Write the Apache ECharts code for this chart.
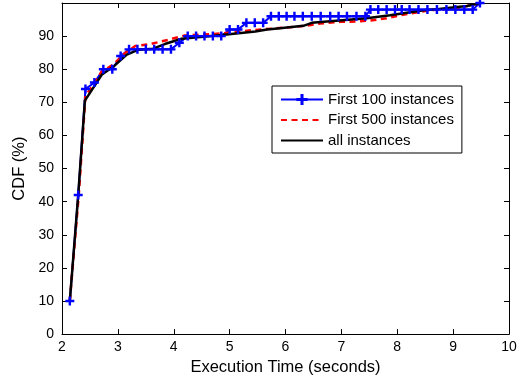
<!DOCTYPE html>
<html>
<head>
<meta charset="utf-8">
<script src="https://cdn.jsdelivr.net/npm/echarts@6/dist/echarts.min.js"></script>
<style>
html,body{margin:0;padding:0;background:#fff;}
#chart{width:521px;height:381px;}
</style>
</head>
<body>
<div id="chart"></div>
<script>
var seriesNames = ['First 100 instances', 'First 500 instances', 'all instances'];
var xTicks = [2, 3, 4, 5, 6, 7, 8, 9, 10];
var yTicks = [0, 10, 20, 30, 40, 50, 60, 70, 80, 90];

var first100X = [2.14,2.29,2.42,2.58,2.74,2.9,3.05,3.2,3.35,3.5,3.65,3.8,3.95,4.1,4.25,4.4,4.55,4.7,4.85,5.0,5.15,5.3,5.45,5.6,5.74,5.88,6.02,6.16,6.31,6.47,6.63,6.8,6.95,7.1,7.27,7.43,7.52,7.66,7.81,7.96,8.08,8.22,8.38,8.54,8.71,8.88,9.04,9.2,9.35,9.48];
var first100Y = [10,42,74,76,80,80,84,86,86,86,86,86,86,88,90,90,90,90,90,92,92,94,94,94,96,96,96,96,96,96,96,96,96,96,96,96,98,98,98,98,98,98,98,98,98,98,98,98,98,100];

var first500X = [2.14,2.3,2.42,2.55,2.71,2.92,3.13,3.31,3.58,3.93,4.2,4.86,5.4,6.02,6.35,6.62,6.98,7.28,7.51,7.81,8.05,8.59,9.07,9.48];
var first500Y = [10,42,72,75,79.3,81.4,84.9,87,87.6,89,90.2,90.8,91.8,92.6,93.1,93.8,94.3,94.4,94.7,95.4,96.3,97.8,98.4,100];

var allX = [2.14,2.29,2.41,2.71,2.92,3.16,3.37,3.63,3.84,4.14,4.86,5.46,5.67,5.9,6.32,6.47,7.45,7.87,8.47,8.71,9.07,9.25,9.5];
var allY = [10,42,70.5,78.3,80.8,84.4,85.9,86.2,87.6,89.2,90.3,91.4,92,92.4,93.1,94,95.4,96.3,97.8,98.1,98.8,99.1,100];

function zip(xs, ys){ return xs.map(function(x,i){ return [x, ys[i]]; }); }

var FONT = 'Liberation Sans, Arial, Helvetica, sans-serif';
var plusSymbol = 'path://M3.65,0H6.35V3.65H10V6.35H6.35V10H3.65V6.35H0V3.65H3.65Z';

var chart = echarts.init(document.getElementById('chart'), null, {renderer:'canvas'});
var axisCommon = {
  type: 'value',
  axisLine: {show: true, onZero: false, lineStyle: {color: '#000', width: 1}},
  axisTick: {show: true, inside: true, length: 5, lineStyle: {color: '#000'}},
  splitLine: {show: false}
};
chart.setOption({
  animation: false,
  backgroundColor: '#fff',
  textStyle: {fontFamily: FONT},
  grid: {left: 62, right: 12, top: 3, bottom: 45.5, containLabel: false},
  xAxis: [
    Object.assign({}, axisCommon, {
      position: 'bottom', min: xTicks[0], max: xTicks[xTicks.length-1], interval: 1,
      name: 'Execution Time (seconds)', nameLocation: 'middle', nameGap: 23,
      nameTextStyle: {fontSize: 16.5, color: '#000', fontFamily: FONT},
      axisLabel: {show: true, margin: 6, fontSize: 14, color: '#000', fontFamily: FONT}
    }),
    Object.assign({}, axisCommon, {
      position: 'top', min: xTicks[0], max: xTicks[xTicks.length-1], interval: 1,
      axisLabel: {show: false}
    })
  ],
  yAxis: [
    Object.assign({}, axisCommon, {
      position: 'left', min: 0, max: 100, interval: 10,
      name: 'CDF (%)', nameLocation: 'middle', nameGap: 33,
      nameTextStyle: {fontSize: 16.5, color: '#000', fontFamily: FONT},
      axisLabel: {show: true, margin: 8, fontSize: 14, color: '#000', fontFamily: FONT,
        formatter: function(v){ return yTicks.indexOf(v) >= 0 ? String(v) : ''; }}
    }),
    Object.assign({}, axisCommon, {
      position: 'right', min: 0, max: 100, interval: 10,
      axisLabel: {show: false}
    })
  ],
  legend: {
    orient: 'vertical', left: 272, top: 86,
    data: [
      {name: seriesNames[0]},
      {name: seriesNames[1], itemStyle: {opacity: 0}},
      {name: seriesNames[2], itemStyle: {opacity: 0}}
    ],
    backgroundColor: '#fff',
    borderColor: '#000', borderWidth: 1, borderRadius: 0,
    padding: [6, 8, 5, 8],
    itemWidth: 42, itemHeight: 14, itemGap: 5.5,
    textStyle: {fontSize: 15, color: '#000', fontFamily: FONT, lineHeight: 15}
  },
  series: [
    {
      name: seriesNames[0], type: 'line', data: zip(first100X, first100Y),
      xAxisIndex: 0, yAxisIndex: 0,
      symbol: plusSymbol, symbolSize: 9, showAllSymbol: true,
      itemStyle: {color: '#0000ff', borderWidth: 0},
      lineStyle: {color: '#0000ff', width: 2}
    },
    {
      name: seriesNames[1], type: 'line', data: zip(first500X, first500Y),
      xAxisIndex: 0, yAxisIndex: 0,
      symbol: 'none', showSymbol: false,
      itemStyle: {color: '#ff0000'},
      lineStyle: {color: '#ff0000', width: 2.5, type: [6, 4.5]}
    },
    {
      name: seriesNames[2], type: 'line', data: zip(allX, allY),
      xAxisIndex: 0, yAxisIndex: 0,
      symbol: 'none', showSymbol: false,
      itemStyle: {color: '#000000'},
      lineStyle: {color: '#000000', width: 2.5}
    }
  ]
});
</script>
</body>
</html>
